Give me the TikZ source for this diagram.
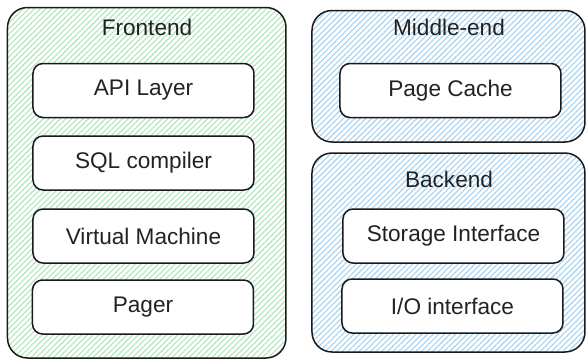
\documentclass[tikz,border=0pt]{standalone}
\usepackage{fontspec}
\setmainfont{Liberation Sans}
\usetikzlibrary{patterns.meta}
\definecolor{edgegray}{HTML}{1A1A1A}
\definecolor{textgray}{HTML}{222222}
\definecolor{hatchgreen}{HTML}{AEE6BC}
\definecolor{hatchblue}{HTML}{A6D2F2}
\tikzset{
  container/.style={draw=edgegray, line width=0.75pt, rounded corners=10pt,
    pattern={Lines[angle=45, distance=2pt, line width=0.55pt]}},
  component/.style={draw=edgegray, line width=0.75pt, fill=white, rounded corners=5pt,
    minimum width=110.5pt, minimum height=27pt, inner sep=0pt, text=textgray,
    font=\fontsize{11.3}{13}\selectfont},
  title/.style={anchor=base, inner sep=0pt, text=textgray, font=\fontsize{11.3}{13}\selectfont}
}
\begin{document}
\begin{tikzpicture}[x=0.5pt, y=-0.5pt]
  \useasboundingbox (0,0) rectangle (586,360);
  % containers
  \path[container, pattern color=hatchgreen] (7.5,7.5) rectangle (286,358);
  \path[container, pattern color=hatchblue] (312,10.5) rectangle (585,142);
  \path[container, pattern color=hatchblue] (312,153) rectangle (585,352);
  \node[title] (frontend) at (147,35) {Frontend};
  \node[title] (middleend) at (449,35) {Middle-end};
  \node[title] (backend) at (449,187) {Backend};
  % frontend parts
  \node[component] (api) at (143.5,90.5) {API Layer};
  \node[component] (sql) at (143.5,163) {SQL compiler};
  \node[component] (vm) at (143.5,236) {Virtual Machine};
  \node[component] (pager) at (143,307) {Pager};
  % middle-end and backend parts
  \node[component] (cache) at (450.5,90.5) {Page Cache};
  \node[component] (storage) at (453.5,236) {Storage Interface};
  \node[component] (io) at (452.5,306) {I/O interface};
\end{tikzpicture}
\end{document}
